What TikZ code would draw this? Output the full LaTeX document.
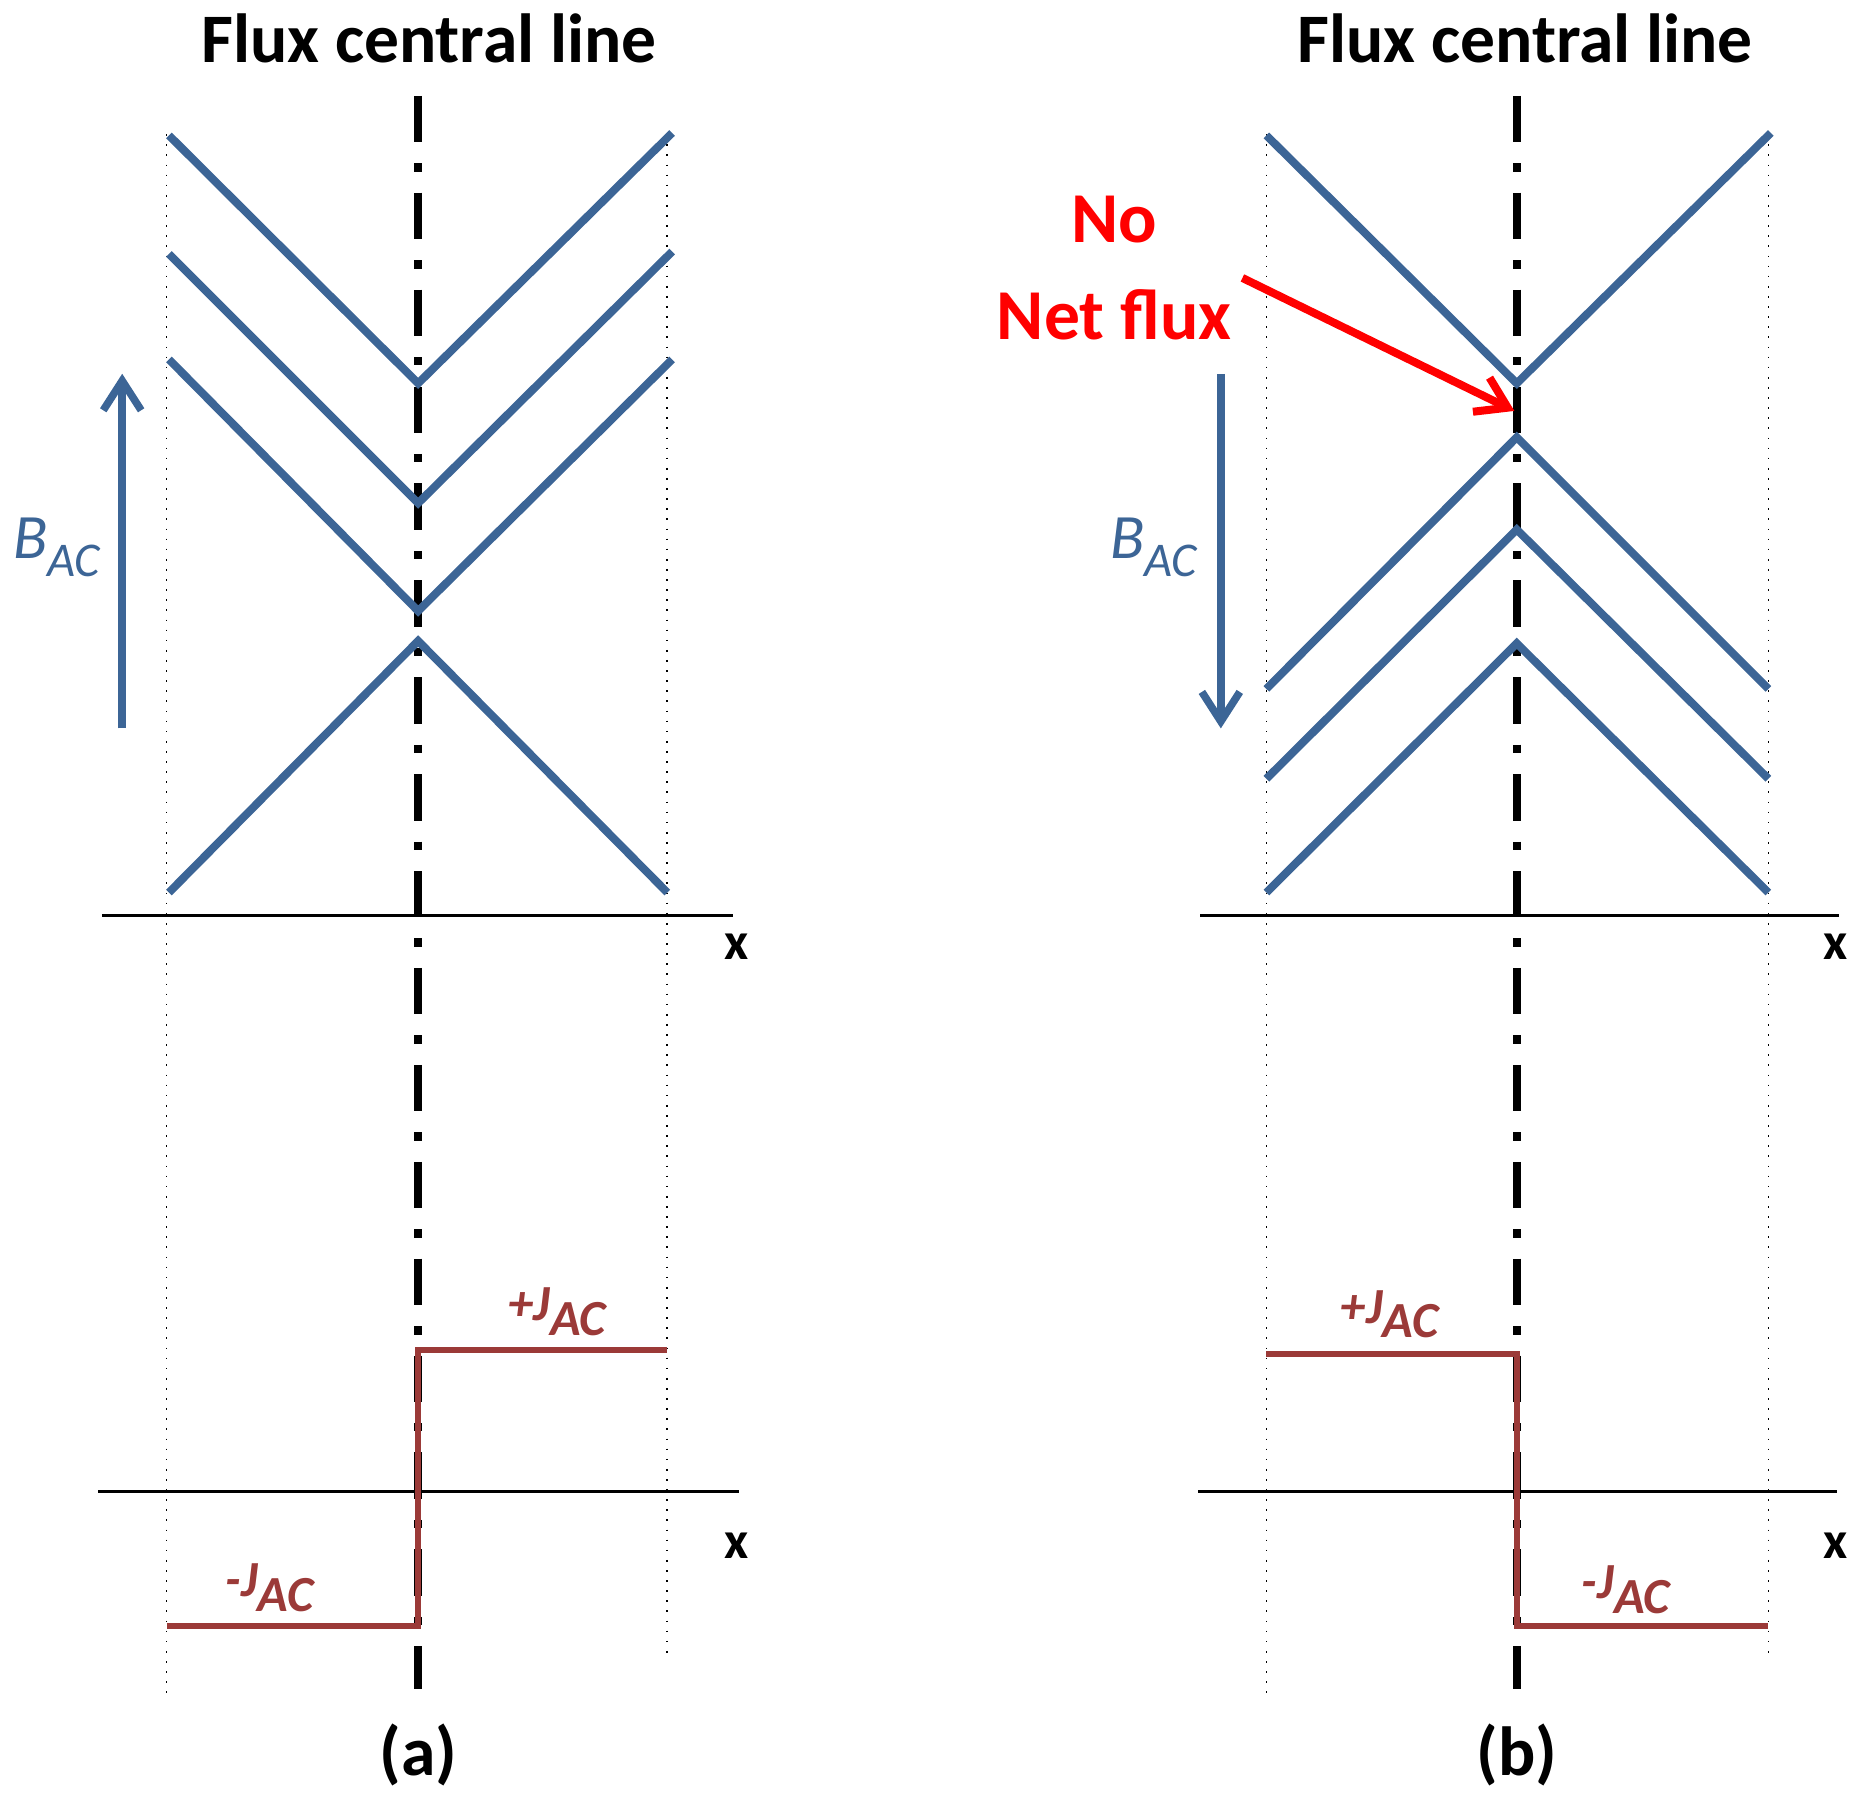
\documentclass[tikz,border=0pt]{standalone}
\usepackage{fontspec}
\setmainfont{Carlito}
\usetikzlibrary{arrows.meta}
\definecolor{fb}{HTML}{3C6596}
\definecolor{jr}{HTML}{9B3A38}
\begin{document}
\begin{tikzpicture}[x=0.01cm,y=-0.01cm,
 flux/.style={fb,line width=1.9pt},
 cur/.style={jr,line width=1.5pt},
 dotl/.style={black,line width=0.4pt,dotted},
 axis/.style={black,line width=0.6pt},
 cen/.style={black,line width=1.8pt,dash pattern=on 11pt off 5pt on 2pt off 5pt},
 ttl/.style={font=\fontsize{16.5}{18}\selectfont\bfseries},
 lbl/.style={font=\fontsize{12.5}{14}\selectfont\bfseries},
 bl/.style={fb,font=\fontsize{15}{17}\selectfont\itshape},
 jl/.style={jr,font=\fontsize{12}{14}\selectfont\bfseries\itshape},
 barr/.style={fb,line width=1.8pt,-{Straight Barb[length=7pt,width=9pt,line width=1.8pt]}}]
\useasboundingbox (0,0) rectangle (1560,1507);
% panel a
\draw[dotl] (139,112) -- (139,1415);
\draw[dotl] (557,112) -- (557,1385);
\draw[axis] (85,764) -- (612,764);
\draw[axis] (82,1245) -- (617,1245);
\node[lbl] (xa1) at (615,790) {x};
\node[lbl] (xa2) at (615,1290) {x};
\draw[cen] (349,80) -- (349,1410);
\draw[flux] (141,113) -- (349,320) -- (561,111);
\draw[flux] (141,212) -- (349,420) -- (561,210);
\draw[flux] (141,300) -- (349,510) -- (561,300);
\draw[flux] (141,745) -- (349,535) -- (557,745);
\coordinate (aa0) at (102,608); \coordinate (aa1) at (102,312);
\draw[barr] (aa0) -- (aa1);
\node[bl] (ba) at (47,457) {B\raisebox{-0.6ex}{\fontsize{11.5}{13}\selectfont AC}};
\draw[cur] (139,1357) -- (349,1357) -- (349,1127) -- (557,1127);
\node[jl] (jpa) at (465,1095) {+J\raisebox{-0.6ex}{AC}};
\node[jl] (jma) at (225,1325) {-J\raisebox{-0.6ex}{AC}};
\node[ttl] (ta) at (358,32) {Flux central line};
\node[ttl] (la) at (349,1465) {(a)};
% panel b
\draw[dotl] (1057,112) -- (1057,1415);
\draw[dotl] (1476,112) -- (1476,1385);
\draw[axis] (1002,764) -- (1535,764);
\draw[axis] (1000,1245) -- (1533,1245);
\node[lbl] (xb1) at (1532,790) {x};
\node[lbl] (xb2) at (1532,1290) {x};
\draw[cen] (1266,80) -- (1266,1410);
\draw[flux] (1057,113) -- (1266,320) -- (1478,111);
\draw[flux] (1057,575) -- (1266,365) -- (1476,575);
\draw[flux] (1057,650) -- (1266,442) -- (1476,650);
\draw[flux] (1057,745) -- (1266,537) -- (1476,745);
\coordinate (ba0) at (1019,312); \coordinate (ba1) at (1019,608);
\draw[barr] (ba0) -- (ba1);
\node[bl] (bb) at (963,457) {B\raisebox{-0.6ex}{\fontsize{11.5}{13}\selectfont AC}};
\draw[cur] (1057,1130) -- (1266,1130) -- (1266,1357) -- (1476,1357);
\node[jl] (jpb) at (1160,1097) {+J\raisebox{-0.6ex}{AC}};
\node[jl] (jmb) at (1357,1327) {-J\raisebox{-0.6ex}{AC}};
\node[red,font=\fontsize{17}{19}\selectfont\bfseries,align=center] (no) at (930,224) {No\\[4pt]Net flux};
\coordinate (nf0) at (1037,232); \coordinate (nf1) at (1264,343);
\draw[red,line width=1.9pt,-{Straight Barb[length=7pt,width=9pt,line width=1.9pt]}] (nf0) -- (nf1);
\node[ttl] (tb) at (1273,32) {Flux central line};
\node[ttl] (lb) at (1266,1465) {(b)};
\end{tikzpicture}
\end{document}
